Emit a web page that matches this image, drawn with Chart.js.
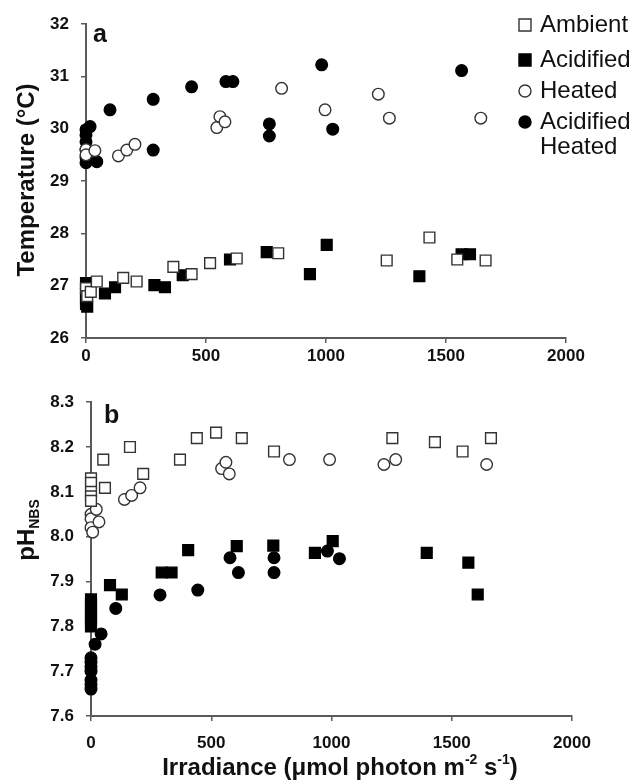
<!DOCTYPE html>
<html>
<head>
<meta charset="utf-8">
<script src="https://cdn.jsdelivr.net/npm/chart.js@4.4.1/dist/chart.umd.min.js"></script>
<style>
  body { margin: 0; background: #fff; }
  .panel { position: absolute; left: 0; }
  #top { top: 0; }
  #bottom { top: 380px; }
</style>
</head>
<body>
<div class="panel" id="top"><canvas id="tempChart" width="636" height="380"></canvas></div>
<div class="panel" id="bottom"><canvas id="phChart" width="636" height="404"></canvas></div>
<script>
// axis ticks
const irradianceTicks = [0, 500, 1000, 1500, 2000];
const tempTicks = [26, 27, 28, 29, 30, 31, 32];
const phTicks = [7.6, 7.7, 7.8, 7.9, 8.0, 8.1, 8.2, 8.3];

// panel a : temperature
const ambientTempX = [0, 5, 20, 45, 155, 211, 364, 440, 517, 628, 801, 1253, 1431, 1547, 1665];
const ambientTempY = [26.95, 26.8, 26.88, 27.08, 27.15, 27.08, 27.36, 27.22, 27.43, 27.52, 27.62, 27.48, 27.92, 27.5, 27.48];

const acidTempX = [0, 0, 0, 0, 0, 5, 79, 121, 285, 329, 403, 600, 753, 933, 1003, 1389, 1565, 1600];
const acidTempY = [27.05, 26.95, 26.85, 26.75, 26.65, 26.6, 26.85, 26.97, 27.01, 26.97, 27.2, 27.5, 27.64, 27.22, 27.78, 27.18, 27.6, 27.6];

const heatedTempX = [0, 0, 37, 135, 170, 204, 545, 558, 579, 815, 996, 1218, 1264, 1645];
const heatedTempY = [29.6, 29.5, 29.58, 29.48, 29.59, 29.7, 30.02, 30.23, 30.13, 30.77, 30.36, 30.66, 30.2, 30.2];

const acidHeatTempX = [0, 0, 0, 0, 0, 0, 17, 45, 100, 280, 280, 440, 583, 612, 764, 764, 982, 1028, 1565];
const acidHeatTempY = [29.98, 29.88, 29.75, 29.6, 29.45, 29.35, 30.04, 29.37, 30.36, 30.56, 29.59, 30.8, 30.9, 30.9, 30.09, 29.86, 31.22, 29.99, 31.11];

// panel b : pH
const ambientPhX = [0, 0, 0, 0, 0, 51, 58, 162, 217, 370, 440, 520, 627, 761, 1253, 1430, 1545, 1663];
const ambientPhY = [8.13, 8.12, 8.1, 8.09, 8.08, 8.172, 8.109, 8.2, 8.14, 8.172, 8.22, 8.232, 8.22, 8.19, 8.22, 8.211, 8.19, 8.22];

const heatedPhX = [0, 0, 0, 7, 22, 33, 139, 169, 204, 543, 561, 575, 825, 992, 1218, 1267, 1645];
const heatedPhY = [8.05, 8.04, 8.02, 8.01, 8.061, 8.033, 8.083, 8.092, 8.109, 8.152, 8.166, 8.14, 8.172, 8.172, 8.161, 8.172, 8.161];

const acidPhX = [0, 0, 0, 0, 0, 0, 0, 79, 128, 294, 335, 404, 606, 758, 931, 1005, 1396, 1569, 1608];
const acidPhY = [7.86, 7.85, 7.84, 7.83, 7.82, 7.81, 7.8, 7.892, 7.871, 7.92, 7.92, 7.97, 7.979, 7.98, 7.964, 7.99, 7.964, 7.942, 7.871];

const acidHeatPhX = [0, 0, 0, 0, 0, 0, 0, 17, 42, 103, 287, 444, 578, 613, 761, 761, 983, 1033];
const acidHeatPhY = [7.73, 7.72, 7.71, 7.7, 7.68, 7.67, 7.66, 7.76, 7.783, 7.84, 7.87, 7.881, 7.953, 7.92, 7.953, 7.92, 7.968, 7.951];

const AXIS = '#5a5a5a';
const INK = '#111';
const FONT = '"Liberation Sans", Arial, sans-serif';

function pts(xs, ys) {
  return xs.map((x, i) => ({ x: x, y: ys[i] }));
}

function series(label, xs, ys, style, filled) {
  return {
    label: label,
    data: pts(xs, ys),
    pointStyle: style,
    pointRadius: style === 'rect' ? 7.6 : 5.8,
    pointBorderWidth: 1.4,
    pointBorderColor: filled ? '#000' : '#333',
    pointBackgroundColor: filled ? '#000' : '#fff',
    clip: false
  };
}

function axisX(tickPad, height) {
  return {
    type: 'linear', min: 0, max: 2000,
    afterBuildTicks: s => { s.ticks = irradianceTicks.map(v => ({ value: v })); },
    afterFit: s => { s.height = height; },
    grid: { drawOnChartArea: false, drawTicks: true, tickLength: 5, color: AXIS, lineWidth: 1.5 },
    border: { color: AXIS, width: 2 },
    ticks: {
      color: INK, padding: tickPad, font: { family: FONT, size: 17, weight: 'bold' },
      callback: v => String(v)
    }
  };
}

function axisY(min, max, list, width, digits) {
  return {
    type: 'linear', min: min, max: max,
    afterBuildTicks: s => { s.ticks = list.map(v => ({ value: v })); },
    afterFit: s => { s.width = width; },
    grid: { drawOnChartArea: false, drawTicks: true, tickLength: 5, color: AXIS, lineWidth: 1.5 },
    border: { color: AXIS, width: 2 },
    ticks: {
      color: INK, padding: 12, font: { family: FONT, size: 17, weight: 'bold' },
      callback: v => v.toFixed(digits)
    }
  };
}

// text pieces with super/subscripts, centred on x
function richText(ctx, parts, x, y) {
  let total = 0;
  parts.forEach(p => { ctx.font = p.font; total += ctx.measureText(p.t).width; });
  let cx = x - total / 2;
  ctx.textAlign = 'left';
  ctx.textBaseline = 'middle';
  parts.forEach(p => {
    ctx.font = p.font;
    ctx.fillText(p.t, cx, y + (p.dy || 0));
    cx += ctx.measureText(p.t).width;
  });
}

function marker(ctx, style, filled, x, y) {
  ctx.beginPath();
  if (style === 'rect') ctx.rect(x - 6, y - 6, 12, 12);
  else ctx.arc(x, y, 6, 0, Math.PI * 2);
  ctx.fillStyle = filled ? '#000' : '#fff';
  ctx.fill();
  ctx.lineWidth = 1.4;
  ctx.strokeStyle = filled ? '#000' : '#333';
  ctx.stroke();
}

const topDecor = {
  id: 'topDecor',
  afterDraw(chart) {
    const ctx = chart.ctx;
    ctx.save();
    ctx.fillStyle = INK;
    ctx.font = 'bold 25px ' + FONT;
    ctx.textAlign = 'left';
    ctx.textBaseline = 'alphabetic';
    ctx.fillText('a', 93, 42);

    ctx.translate(27, 180);
    ctx.rotate(-Math.PI / 2);
    ctx.font = 'bold 24px ' + FONT;
    ctx.textAlign = 'center';
    ctx.textBaseline = 'middle';
    ctx.fillText('Temperature (°C)', 0, 0);
    ctx.restore();

    // legend
    ctx.save();
    const rows = [
      ['rect', false, ['Ambient'], 25],
      ['rect', true, ['Acidified'], 60],
      ['circle', false, ['Heated'], 91],
      ['circle', true, ['Acidified', 'Heated'], 122]
    ];
    rows.forEach(r => {
      marker(ctx, r[0], r[1], 525, r[3]);
      ctx.fillStyle = INK;
      ctx.font = '24px ' + FONT;
      ctx.textAlign = 'left';
      ctx.textBaseline = 'middle';
      r[2].forEach((line, i) => ctx.fillText(line, 540, r[3] + i * 25));
    });
    ctx.restore();
  }
};

const bottomDecor = {
  id: 'bottomDecor',
  afterDraw(chart) {
    const ctx = chart.ctx;
    ctx.save();
    ctx.fillStyle = INK;
    ctx.font = 'bold 25px ' + FONT;
    ctx.textAlign = 'left';
    ctx.textBaseline = 'alphabetic';
    ctx.fillText('b', 104, 43);

    const big = 'bold 24px ' + FONT;
    const small = 'bold 14px ' + FONT;
    richText(ctx, [
      { t: 'Irradiance (μmol photon m', font: big },
      { t: '-2', font: small, dy: -8 },
      { t: ' s', font: big },
      { t: '-1', font: small, dy: -8 },
      { t: ')', font: big }
    ], 340, 388);

    ctx.translate(27, 150);
    ctx.rotate(-Math.PI / 2);
    richText(ctx, [
      { t: 'pH', font: big },
      { t: 'NBS', font: small, dy: 8 }
    ], 0, 0);
    ctx.restore();
  }
};

function makeChart(id, datasets, yScale, xScale, padding, plugin) {
  return new Chart(document.getElementById(id), {
    type: 'scatter',
    data: { datasets: datasets },
    options: {
      responsive: false,
      animation: false,
      layout: { padding: padding },
      plugins: { legend: { display: false }, tooltip: { enabled: false } },
      scales: { x: xScale, y: yScale }
    },
    plugins: [plugin]
  });
}

makeChart('tempChart', [
  series('Ambient', ambientTempX, ambientTempY, 'rect', false),
  series('Acidified', acidTempX, acidTempY, 'rect', true),
  series('Heated', heatedTempX, heatedTempY, 'circle', false),
  series('Acidified Heated', acidHeatTempX, acidHeatTempY, 'circle', true)
], axisY(26, 32, tempTicks, 86, 0), axisX(3, 42), { left: 0, right: 70, top: 24, bottom: 0 }, topDecor);

makeChart('phChart', [
  series('Ambient', ambientPhX, ambientPhY, 'rect', false),
  series('Acidified', acidPhX, acidPhY, 'rect', true),
  series('Heated', heatedPhX, heatedPhY, 'circle', false),
  series('Acidified Heated', acidHeatPhX, acidHeatPhY, 'circle', true)
], axisY(7.6, 8.3, phTicks, 91, 1), axisX(12, 68), { left: 0, right: 64, top: 22, bottom: 0 }, bottomDecor);
</script>
</body>
</html>
